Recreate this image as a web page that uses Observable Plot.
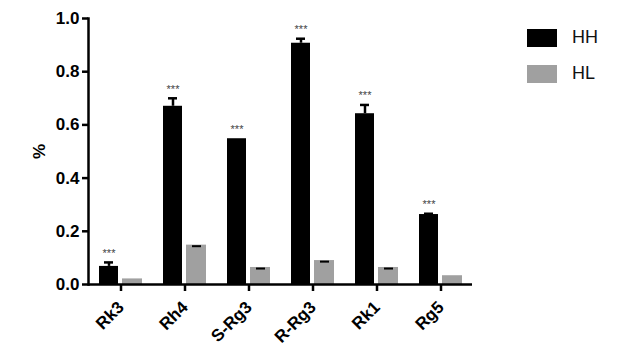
<!DOCTYPE html>
<html>
<head>
<meta charset="utf-8">
<script src="https://cdn.jsdelivr.net/npm/d3@7"></script>
<script src="https://cdn.jsdelivr.net/npm/@observablehq/plot@0.6"></script>
<style>
  html, body { margin: 0; padding: 0; background: #fff; }
  #wrap { position: relative; width: 625px; height: 355px; font-family: "Liberation Sans", Arial, sans-serif; }
  .leg { position: absolute; left: 527px; display: flex; align-items: center; font-size: 18px; color: #111; }
  .leg .sw { width: 30px; height: 18px; margin-right: 15px; }
</style>
</head>
<body>
<div id="wrap"></div>
<script>
const categories = ["Rk3", "Rh4", "S-Rg3", "R-Rg3", "Rk1", "Rg5"];
const hhValues = [0.068, 0.670, 0.548, 0.907, 0.642, 0.263];
const hhErrors = [0.015, 0.030, 0.000, 0.017, 0.033, 0.003];
const hlValues = [0.021, 0.148, 0.064, 0.090, 0.064, 0.033];
const hlErrors = [0.000, 0.004, 0.004, 0.004, 0.004, 0.000];
const stars = ["***", "***", "***", "***", "***", "***"];
const yTicks = [0, 0.2, 0.4, 0.6, 0.8, 1.0];
const seriesNames = ["HH", "HL"];
const seriesColors = ["#000000", "#a0a0a0"];

const hh = categories.map((c, i) => ({c, v: hhValues[i], e: hhErrors[i], s: stars[i]}));
const hl = categories.map((c, i) => ({c, v: hlValues[i], e: hlErrors[i]}));

const plot = Plot.plot({
  width: 625,
  height: 355,
  marginLeft: 88,
  marginRight: 153,
  marginTop: 18,
  marginBottom: 71,
  style: {fontFamily: "'Liberation Sans', Arial, sans-serif", background: "transparent", overflow: "visible"},
  x: {domain: categories, paddingInner: 0.33, paddingOuter: 0.165, label: null},
  y: {domain: [0, 1], label: null},
  marks: [
    Plot.barY(hh, {x: "c", y: "v", fill: seriesColors[0], insetRight: 24}),
    Plot.barY(hl, {x: "c", y: "v", fill: seriesColors[1], insetLeft: 23}),
    // HH error bars
    Plot.ruleX(hh.filter(d => d.e > 0), {x: "c", y1: "v", y2: d => d.v + d.e, dx: -12, strokeWidth: 2.5, stroke: "#000"}),
    Plot.tickY(hh.filter(d => d.e > 0), {x: "c", y: d => d.v + d.e, insetLeft: 5, insetRight: 29, strokeWidth: 2.5, stroke: "#000"}),
    // HL error caps
    Plot.tickY(hl.filter(d => d.e > 0), {x: "c", y: d => d.v - d.e, insetLeft: 29, insetRight: 5, strokeWidth: 2, stroke: "#000"}),
    // significance stars
    Plot.text(hh, {x: "c", y: d => d.v + d.e, text: "s", dx: -12, dy: -9, fontSize: 11, fill: "#444", textAnchor: "middle"}),
    Plot.ruleY([0], {strokeWidth: 2.5, stroke: "#000"}),
    Plot.frame({anchor: "left", strokeWidth: 2.5, stroke: "#000"}),
    Plot.axisY({ticks: yTicks, tickFormat: d => d.toFixed(1), tickSize: 6, tickPadding: 3, fontSize: 17, fontWeight: "bold", strokeWidth: 2.5, label: "%", labelAnchor: "center", labelOffset: 56, labelArrow: false, color: "#000"}),
    Plot.axisX({tickRotate: -45, tickSize: 7, tickPadding: 13, fontSize: 17, fontWeight: "bold", strokeWidth: 2.5, label: null, color: "#000"})
  ]
});

const wrap = document.getElementById("wrap");
wrap.appendChild(plot);

// legend
seriesNames.forEach((name, i) => {
  const d = document.createElement("div");
  d.className = "leg";
  d.style.top = (27 + i * 36) + "px";
  const sw = document.createElement("div");
  sw.className = "sw";
  sw.style.background = seriesColors[i];
  const t = document.createElement("span");
  t.textContent = name;
  d.appendChild(sw);
  d.appendChild(t);
  wrap.appendChild(d);
});
</script>
</body>
</html>
